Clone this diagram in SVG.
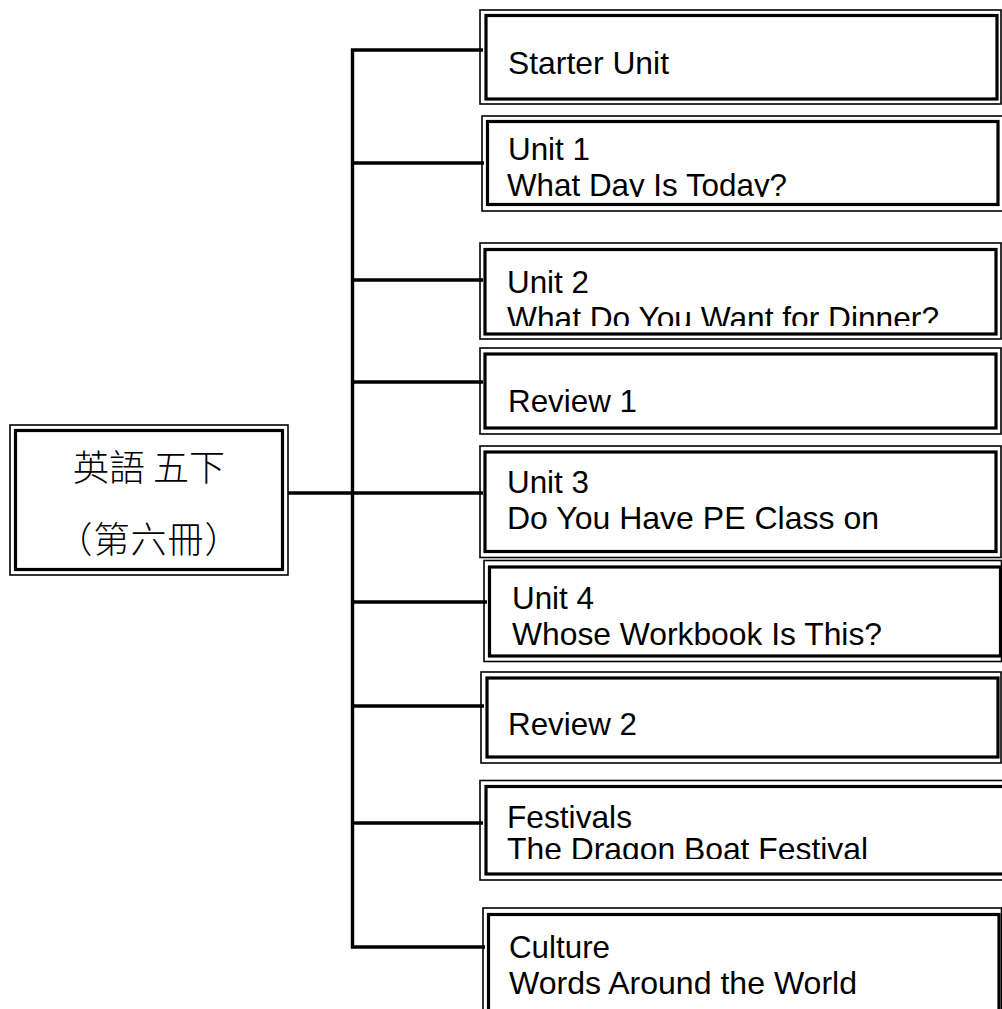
<svg xmlns="http://www.w3.org/2000/svg" width="1002" height="1009" viewBox="0 0 1002 1009">
<style>
.o{fill:none;stroke:#000;stroke-width:1.6}
.i{fill:none;stroke:#000;stroke-width:3.2}
.t{font-family:"Liberation Sans",Arial,sans-serif;font-size:30.5px;fill:#000}
.c{font-family:"Noto Sans CJK TC","Noto Sans CJK SC",sans-serif;font-size:36px;font-weight:300;fill:#000}
.k{fill:none;stroke:#000;stroke-width:3.4}
</style>
<defs>
<clipPath id="c1"><rect x="486" y="120" width="512" height="77"/></clipPath>
<clipPath id="c2"><rect x="486" y="248" width="512" height="78"/></clipPath>
<clipPath id="c8"><rect x="486" y="786" width="516" height="73"/></clipPath>
</defs>
<rect width="1002" height="1009" fill="#fff"/>
<g id="connectors">
<path class="k" d="M483 50H352.5V947H485"/>
<path class="k" d="M352.5 163H484M352.5 280H483M352.5 382H483M288 493H483M352.5 602H487M352.5 706H484M352.5 823H483"/>
</g>
<g id="root">
<rect class="o" x="10" y="425" width="278" height="150"/>
<rect class="i" x="15.5" y="430.5" width="267" height="139"/>
<text class="c" x="149" y="481" text-anchor="middle">英語 五下</text>
<text class="c" x="149" y="553" text-anchor="middle" letter-spacing="1">（第六冊）</text>
</g>
<g id="n-starter">
<rect class="o" x="480" y="10" width="521" height="94"/>
<rect class="i" x="486" y="15.5" width="511" height="83.5"/>
<text class="t" x="508" y="74" textLength="161" lengthAdjust="spacingAndGlyphs">Starter Unit</text>
</g>
<g id="n-unit1">
<rect class="o" x="482" y="116" width="530" height="95"/>
<rect class="i" x="487.5" y="121.5" width="510.5" height="83"/>
<text class="t" x="508" y="160" textLength="82" lengthAdjust="spacingAndGlyphs">Unit 1</text>
<text class="t" x="507" y="196" textLength="280" lengthAdjust="spacingAndGlyphs" clip-path="url(#c1)">What Day Is Today?</text>
</g>
<g id="n-unit2">
<rect class="o" x="480" y="243" width="521" height="96"/>
<rect class="i" x="485" y="249.5" width="511" height="84.5"/>
<text class="t" x="507" y="292.5" textLength="82" lengthAdjust="spacingAndGlyphs">Unit 2</text>
<text class="t" x="507" y="328.5" textLength="432" lengthAdjust="spacingAndGlyphs" clip-path="url(#c2)">What Do You Want for Dinner?</text>
</g>
<g id="n-review1">
<rect class="o" x="480" y="348" width="521" height="86"/>
<rect class="i" x="485" y="354" width="511" height="74"/>
<text class="t" x="508" y="411.5" textLength="129" lengthAdjust="spacingAndGlyphs">Review 1</text>
</g>
<g id="n-unit3">
<rect class="o" x="480" y="446" width="521" height="111.5"/>
<rect class="i" x="485" y="452" width="511" height="99.5"/>
<text class="t" x="507" y="492.5" textLength="82" lengthAdjust="spacingAndGlyphs">Unit 3</text>
<text class="t" x="507" y="528.5" textLength="372" lengthAdjust="spacingAndGlyphs">Do You Have PE Class on</text>
</g>
<g id="n-unit4">
<rect class="o" x="484" y="560.5" width="517.5" height="101"/>
<rect class="i" x="489.5" y="567" width="511" height="89"/>
<text class="t" x="512" y="609" textLength="82" lengthAdjust="spacingAndGlyphs">Unit 4</text>
<text class="t" x="512" y="645" textLength="370" lengthAdjust="spacingAndGlyphs">Whose Workbook Is This?</text>
</g>
<g id="n-review2">
<rect class="o" x="481" y="672" width="520" height="91"/>
<rect class="i" x="487" y="678" width="511" height="79"/>
<text class="t" x="508" y="734.5" textLength="129" lengthAdjust="spacingAndGlyphs">Review 2</text>
</g>
<g id="n-festivals">
<rect class="o" x="480" y="780.5" width="530" height="99.5"/>
<rect class="i" x="486" y="786.5" width="520" height="87.5"/>
<text class="t" x="507" y="827.5" textLength="125" lengthAdjust="spacingAndGlyphs">Festivals</text>
<text class="t" x="507" y="860" textLength="361" lengthAdjust="spacingAndGlyphs" clip-path="url(#c8)">The Dragon Boat Festival</text>
</g>
<g id="n-culture">
<rect class="o" x="483" y="908" width="518.5" height="120"/>
<rect class="i" x="488.5" y="914.5" width="510.5" height="110"/>
<text class="t" x="509" y="957.5" textLength="101" lengthAdjust="spacingAndGlyphs">Culture</text>
<text class="t" x="509" y="994" textLength="348" lengthAdjust="spacingAndGlyphs">Words Around the World</text>
</g>
</svg>
